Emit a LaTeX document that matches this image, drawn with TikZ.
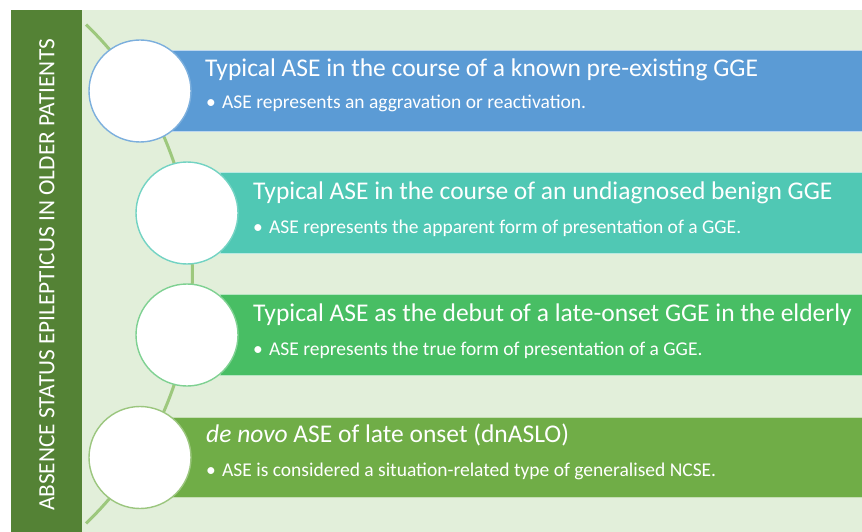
\documentclass[tikz,border=0pt]{standalone}
\usepackage{fontspec}
\setmainfont{Carlito}
\definecolor{bgc}{HTML}{E2EFDA}
\definecolor{barc}{HTML}{548235}
\definecolor{arcc}{HTML}{9DC87D}
\definecolor{c1}{HTML}{5B9BD5}
\definecolor{c2}{HTML}{50C8B4}
\definecolor{c3}{HTML}{48BE64}
\definecolor{c4}{HTML}{70AD47}
\newcommand{\bulitem}[1]{\makebox[16pt][l]{\textbullet}#1}
\tikzset{
  boxr/.style={draw=white!60!#1, line width=0.8pt, fill=#1, anchor=west, minimum height=80.5pt, inner sep=0pt, outer sep=0pt},
  circ/.style={circle, draw=#1, line width=1.4pt, fill=white, minimum size=102pt, inner sep=0pt},
  ttl/.style={anchor=base west, text=white, inner sep=0pt, font=\fontsize{25.5}{30}\selectfont},
  bul/.style={anchor=base west, text=white, inner sep=0pt, font=\fontsize{19.5}{23}\selectfont},
  side/.style={rotate=90, text=white, inner sep=0pt, font=\fontsize{23.3}{27}\selectfont}
}
\begin{document}
\begin{tikzpicture}[x=1pt,y=-1pt]
\useasboundingbox (0,0) rectangle (862,532);
\fill[bgc] (82,10) rectangle (862,532);
\fill[barc] (11,10) rectangle (82,532);
\node[side] (lab) at (47,275) {ABSENCE STATUS EPILEPTICUS IN OLDER PATIENTS};
% arc connecting the circles
\coordinate (atop) at (89,23);
\coordinate (abot) at (90,525);
\draw[arcc, line width=3pt] plot[domain=-46.2:46.2, samples=80] ({-153.2+345.6*cos(\x)}, {274+345.6*sin(\x)});
% boxes
\node[boxr=c1, minimum width=692pt] (r1) at (172,91) {};
\node[boxr=c2, minimum width=644pt] (r2) at (220,213) {};
\node[boxr=c3, minimum width=644pt] (r3) at (220,335) {};
\node[boxr=c4, minimum width=694pt] (r4) at (170,457.5) {};
% circles
\node[circ=c1!80] (k1) at (140,91) {};
\node[circ=c2!80] (k2) at (187,213) {};
\node[circ=c3!70] (k3) at (187,335) {};
\node[circ=c4!70] (k4) at (140,457.5) {};
% texts
\node[ttl] (t1) at (205,77) {Typical ASE in the course of a known pre-existing GGE};
\node[bul] (b1) at (206,109) {\bulitem{ASE represents an aggravation or reactivation.}};
\node[ttl] (t2) at (253,199) {Typical ASE in the course of an undiagnosed benign GGE};
\node[bul] (b2) at (253,233) {\bulitem{ASE represents the apparent form of presentation of a GGE.}};
\node[ttl] (t3) at (253,321) {Typical ASE as the debut of a late-onset GGE in the elderly};
\node[bul] (b3) at (253,355) {\bulitem{ASE represents the true form of presentation of a GGE.}};
\node[ttl] (t4) at (206,442) {\textit{de novo} ASE of late onset (dnASLO)};
\node[bul] (b4) at (206,476) {\bulitem{ASE is considered a situation-related type of generalised NCSE.}};
\end{tikzpicture}
\end{document}
